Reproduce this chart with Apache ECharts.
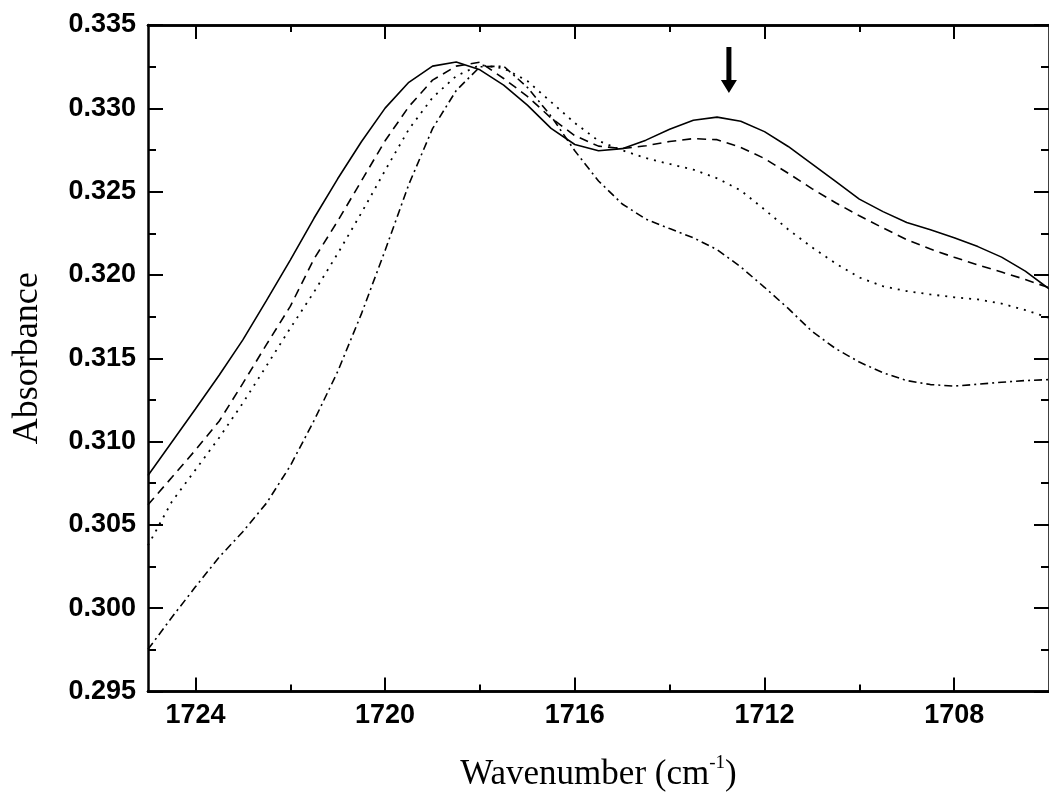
<!DOCTYPE html>
<html>
<head>
<meta charset="utf-8">
<script src="https://cdn.jsdelivr.net/npm/echarts@6/dist/echarts.min.js"></script>
<style>
  html, body { margin: 0; padding: 0; background: #fff; }
  #chartAbs { width: 1049px; height: 797px; }
</style>
</head>
<body>
<div id="chartAbs"></div>
<script>
// wavenumber grid (cm-1), read every 0.5
var wavenumbers = [1725, 1724.5, 1724, 1723.5, 1723, 1722.5, 1722, 1721.5, 1721, 1720.5,
  1720, 1719.5, 1719, 1718.5, 1718, 1717.5, 1717, 1716.5, 1716, 1715.5,
  1715, 1714.5, 1714, 1713.5, 1713, 1712.5, 1712, 1711.5, 1711, 1710.5,
  1710, 1709.5, 1709, 1708.5, 1708, 1707.5, 1707, 1706.5, 1706]

var solidVals = [0.30796, 0.30996, 0.31195, 0.31398, 0.31610, 0.31847, 0.32089, 0.32340, 0.32577, 0.32799,
  0.33001, 0.33156, 0.33253, 0.33278, 0.33231, 0.33139, 0.33019, 0.32880, 0.32783, 0.32745,
  0.32758, 0.32809, 0.32874, 0.32928, 0.32947, 0.32922, 0.32860, 0.32771, 0.32667, 0.32561,
  0.32455, 0.32380, 0.32315, 0.32271, 0.32223, 0.32170, 0.32107, 0.32023, 0.31917]

var dashVals = [0.30621, 0.30784, 0.30949, 0.31122, 0.31349, 0.31583, 0.31811, 0.32096, 0.32323, 0.32564,
  0.32805, 0.33010, 0.33169, 0.33253, 0.33277, 0.33179, 0.33072, 0.32942, 0.32836, 0.32773,
  0.32758, 0.32775, 0.32801, 0.32818, 0.32812, 0.32765, 0.32699, 0.32610, 0.32518, 0.32433,
  0.32355, 0.32282, 0.32212, 0.32155, 0.32106, 0.32060, 0.32017, 0.31973, 0.31923]

var dotVals = [0.30377, 0.30638, 0.30830, 0.31023, 0.31231, 0.31455, 0.31680, 0.31897, 0.32128, 0.32372,
  0.32627, 0.32874, 0.33064, 0.33194, 0.33260, 0.33240, 0.33164, 0.33038, 0.32912, 0.32805,
  0.32748, 0.32701, 0.32666, 0.32632, 0.32580, 0.32507, 0.32393, 0.32273, 0.32166, 0.32069,
  0.31985, 0.31932, 0.31903, 0.31883, 0.31866, 0.31853, 0.31828, 0.31789, 0.31743]

var dashDotVals = [0.29753, 0.29944, 0.30128, 0.30306, 0.30459, 0.30631, 0.30854, 0.31125, 0.31420, 0.31766,
  0.32147, 0.32543, 0.32878, 0.33107, 0.33249, 0.33253, 0.33126, 0.32953, 0.32745, 0.32564,
  0.32426, 0.32335, 0.32278, 0.32223, 0.32152, 0.32048, 0.31926, 0.31799, 0.31662, 0.31558,
  0.31477, 0.31413, 0.31366, 0.31342, 0.31333, 0.31344, 0.31356, 0.31366, 0.31372]

var xMajor = [1724, 1720, 1716, 1712, 1708]
var xMinor = [1722, 1718, 1714, 1710]
var arrowAt = [1712.75, 0.3323]

function pairs(vals) {
  var out = []
  for (let i = 0; i < wavenumbers.length; i++) {
    out.push([wavenumbers[i], vals[i]])
  }
  return out
}

var myChart = echarts.init(document.getElementById('chartAbs'))

var lineCol = '#000'
var labelFont = {
  color: '#000',
  fontFamily: 'Liberation Sans, Arial, sans-serif',
  fontWeight: 'bold',
  fontSize: 27
}
var serif = 'Liberation Serif, Times New Roman, serif'

function xAx(pos, ticks, len, withLabel) {
  return {
    type: 'value',
    position: pos,
    min: 1706,
    max: 1725,
    inverse: true,
    axisLine: { show: true, onZero: false, lineStyle: { color: lineCol, width: 2.5 } },
    axisTick: { show: true, inside: true, length: len, customValues: ticks, lineStyle: { color: lineCol, width: 2 } },
    axisLabel: Object.assign({
      show: withLabel,
      margin: 11,
      customValues: ticks,
      formatter: function (v) { return String(v) }
    }, labelFont),
    splitLine: { show: false }
  }
}

function yAx(pos, withLabel) {
  return {
    type: 'value',
    position: pos,
    min: 0.295,
    max: 0.335,
    interval: 0.005,
    axisLine: { show: true, onZero: false, lineStyle: { color: lineCol, width: 2.5 } },
    axisTick: { show: true, inside: true, length: 15, lineStyle: { color: lineCol, width: 2 } },
    minorTick: { show: true, splitNumber: 2, length: 8, lineStyle: { color: lineCol, width: 2 } },
    axisLabel: Object.assign({
      show: withLabel,
      margin: 12,
      formatter: function (v) { return v.toFixed(3) }
    }, labelFont),
    splitLine: { show: false },
    minorSplitLine: { show: false }
  }
}

var xBottom = xAx('bottom', xMajor, 14, true)
xBottom.name = '{t|Wavenumber (cm}{s|-1}{t|)}'
xBottom.nameLocation = 'middle'
xBottom.nameGap = 62
xBottom.nameTextStyle = {
  rich: {
    t: { fontFamily: serif, fontSize: 35, color: '#000', lineHeight: 42 },
    s: { fontFamily: serif, fontSize: 19, color: '#000', verticalAlign: 'top', lineHeight: 42, padding: [0, 0, 15, 0] }
  }
}

var yLeft = yAx('left', true)
yLeft.name = 'Absorbance'
yLeft.nameLocation = 'middle'
yLeft.nameGap = 102
yLeft.nameTextStyle = {
  fontFamily: serif,
  fontSize: 36,
  color: '#000'
}

myChart.setOption({
  animation: false,
  backgroundColor: '#fff',
  grid: { left: 148, right: 0, top: 25, bottom: 105, containLabel: false },
  xAxis: [
    xBottom,
    xAx('bottom', xMinor, 7, false),
    xAx('top', xMajor, 14, false),
    xAx('top', xMinor, 7, false)
  ],
  yAxis: [yLeft, yAx('right', false)],
  series: [
    {
      name: 'solid',
      type: 'line',
      data: pairs(solidVals),
      showSymbol: false,
      lineStyle: { color: '#000', width: 1.6, type: 'solid' },
      markPoint: {
        silent: true,
        symbol: 'path://M5.5,0 L10.5,0 L10.5,33 L16,33 L8,46 L0,33 L5.5,33 Z',
        symbolSize: [16, 46],
        itemStyle: { color: '#000' },
        label: { show: false },
        data: [{ coord: arrowAt }]
      }
    },
    {
      name: 'dashed',
      type: 'line',
      data: pairs(dashVals),
      showSymbol: false,
      lineStyle: { color: '#000', width: 1.6, type: [9, 6] }
    },
    {
      name: 'dotted',
      type: 'line',
      data: pairs(dotVals),
      showSymbol: false,
      lineStyle: { color: '#000', width: 1.8, type: [2, 6] }
    },
    {
      name: 'dashdot',
      type: 'line',
      data: pairs(dashDotVals),
      showSymbol: false,
      lineStyle: { color: '#000', width: 1.6, type: [8, 4, 2, 4] }
    }
  ]
})
</script>
</body>
</html>
